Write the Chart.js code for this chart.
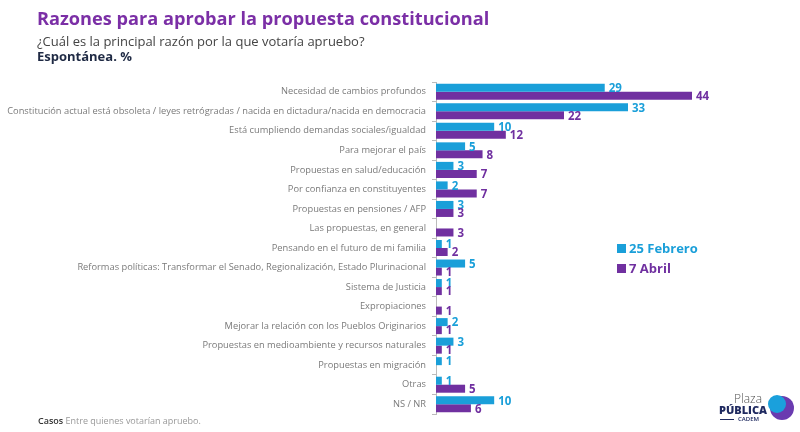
<!DOCTYPE html>
<html>
<head>
<meta charset="utf-8">
<script src="https://cdn.jsdelivr.net/npm/chart.js@4"></script>
<style>
  body { margin: 0; background: #fff; font-family: "Open Sans", sans-serif; }
  #wrap { position: relative; width: 800px; height: 432px; overflow: hidden; }
  #c { position: absolute; left: 0; top: 0; }
  .title { position: absolute; left: 37px; top: 6px; font: 700 18.2px "Open Sans"; color: #7b2fa6; }
  .sub { position: absolute; left: 37px; top: 32px; font: 400 13px "Open Sans"; color: #444; }
  .sub2 { position: absolute; left: 37px; top: 47px; font: 700 13px "Open Sans"; color: #1f2a44; }
  .legend { position: absolute; left: 617px; top: 239px; font: 700 13px "Open Sans"; }
  .legend div { height: 20px; }
  .sq { display: inline-block; width: 9px; height: 9px; margin-right: 3px; }
  .foot { position: absolute; left: 38px; top: 414px; font: 400 9px "Open Sans"; color: #999; }
  .foot b { color: #333; font-weight: 600; }
  .logo { position: absolute; left: 718px; top: 390px; width: 80px; height: 40px; }
</style>
</head>
<body>
<div id="wrap">
  <canvas id="c" width="800" height="432"></canvas>
  <div class="title">Razones para aprobar la propuesta constitucional</div>
  <div class="sub">¿Cuál es la principal razón por la que votaría apruebo?</div>
  <div class="sub2">Espontánea. %</div>
  <div class="legend">
    <div style="color:#1a9fd9"><span class="sq" style="background:#1a9fd9"></span>25 Febrero</div>
    <div style="color:#7030a0"><span class="sq" style="background:#7030a0"></span>7 Abril</div>
  </div>
  <div class="foot"><b>Casos</b> Entre quienes votarían apruebo.</div>
  <div class="logo">
    <div style="position:absolute;left:16px;top:0px;font:300 12px 'Open Sans';color:#555">Plaza</div>
    <div style="position:absolute;left:1px;top:12px;font:800 11px 'Open Sans';color:#1f2a60">PÚBLICA</div>
    <div style="position:absolute;left:2px;top:29px;width:14px;height:1px;background:#1f2a60"></div>
    <div style="position:absolute;left:20px;top:25px;font:600 6px 'Open Sans';color:#1f2a60">CADEM</div>
    <div style="position:absolute;left:52px;top:6px;width:24px;height:24px;border-radius:50%;background:#6a3bb0"></div>
    <div style="position:absolute;left:50px;top:5px;width:18px;height:18px;border-radius:50%;background:#1aa0dc"></div>
  </div>
</div>
<script>
const categorias = [
  "Necesidad de cambios profundos",
  "Constitución actual está obsoleta / leyes retrógradas / nacida en dictadura/nacida en democracia",
  "Está cumpliendo demandas sociales/igualdad",
  "Para mejorar el país",
  "Propuestas en salud/educación",
  "Por confianza en constituyentes",
  "Propuestas en pensiones / AFP",
  "Las propuestas, en general",
  "Pensando en el futuro de mi familia",
  "Reformas políticas: Transformar el Senado, Regionalización, Estado Plurinacional",
  "Sistema de Justicia",
  "Expropiaciones",
  "Mejorar la relación con los Pueblos Originarios",
  "Propuestas en medioambiente y recursos naturales",
  "Propuestas en migración",
  "Otras",
  "NS / NR"
];
const febrero = [29, 33, 10, 5, 3, 2, 3, null, 1, 5, 1, null, 2, 3, 1, 1, 10];
const abril = [44, 22, 12, 8, 7, 7, 3, 3, 2, 1, 1, 1, 1, 1, null, 5, 6];

const azul = "#1a9fd9";
const morado = "#7030a0";

const etiquetas = {
  id: "etiquetas",
  afterDatasetsDraw(chart) {
    const ctx = chart.ctx;
    ctx.save();
    ctx.font = "700 11.5px 'Open Sans'";
    ctx.textBaseline = "middle";
    chart.data.datasets.forEach((ds, i) => {
      const meta = chart.getDatasetMeta(i);
      meta.data.forEach((bar, j) => {
        if (ds.data[j] == null) return;
        ctx.fillStyle = ds.backgroundColor;
        ctx.fillText(ds.data[j], bar.x + 4, bar.y + 1);
      });
    });
    ctx.restore();
  }
};

new Chart(document.getElementById("c"), {
  type: "bar",
  data: {
    labels: categorias,
    datasets: [
      { label: "25 Febrero", data: febrero, backgroundColor: azul },
      { label: "7 Abril", data: abril, backgroundColor: morado }
    ]
  },
  options: {
    indexAxis: "y",
    responsive: false,
    animation: false,
    layout: { padding: { top: 82, bottom: 18, left: 0, right: 44 } },
    datasets: { bar: { categoryPercentage: 0.82, barPercentage: 1 } },
    plugins: { legend: { display: false }, tooltip: { enabled: false } },
    scales: {
      x: { display: false, min: 0, max: 55 },
      y: {
        afterFit(scale) { scale.width = 436; },
        border: { color: "#bbb", width: 1 },
        grid: { drawOnChartArea: false, tickLength: 4, color: "#bbb" },
        ticks: { color: "#7a7a7a", font: { family: "Open Sans", size: 9.3 }, padding: 6, autoSkip: false }
      }
    }
  },
  plugins: [etiquetas]
});
</script>
</body>
</html>
